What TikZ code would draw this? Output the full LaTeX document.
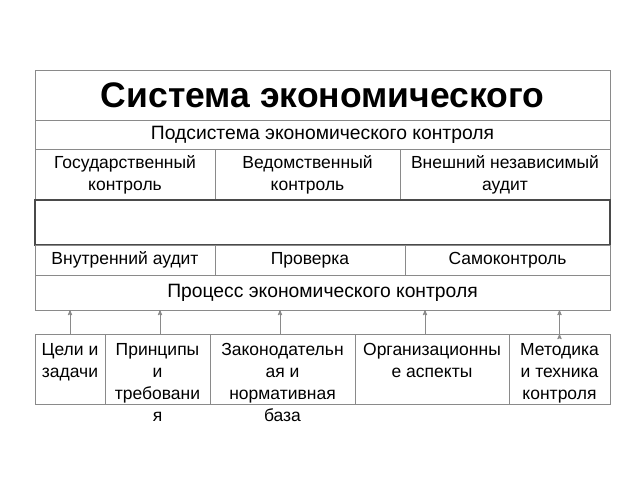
\documentclass[tikz,border=0pt]{standalone}
\usepackage{fontspec}
\setmainfont{Liberation Sans}
\usetikzlibrary{arrows}
\definecolor{gridgray}{HTML}{8A8A8A}
\definecolor{darkgray}{HTML}{4A4A4A}

\begin{document}
\begin{tikzpicture}[x=1pt,y=-1pt,
		cell/.style={draw=gridgray,line width=0.9pt,inner sep=0pt,outer sep=0pt,anchor=north west,
			align=center,font=\fontsize{17.5}{22}\selectfont},
		wide/.style={cell,minimum width=575pt,font=\fontsize{19.3}{22}\selectfont},
		oneline/.style={text height=13pt,text depth=4pt},
		feed/.style={->,>=stealth',draw=gridgray,line width=0.9pt,shorten >=0pt}]

		\useasboundingbox (0,0) rectangle (640,480);

		% upper table
		\node at (35,70) [wide,minimum height=50pt,font=\fontsize{35.5}{38}\selectfont\bfseries] (title) {Система экономического};
		\node at (35,120) [wide,oneline,minimum height=29pt] (subsys) {Подсистема экономического контроля};

		\node at (35,149) [cell,minimum width=180pt,minimum height=51pt] (gos) {Государственный\\контроль};
		\node at (215,149) [cell,minimum width=185pt,minimum height=51pt] (ved) {Ведомственный\\контроль};
		\node at (400,149) [cell,minimum width=210pt,minimum height=51pt] (vnesh) {Внешний независимый\\аудит};

		\node at (35,200) [wide,draw=darkgray,line width=1.6pt,minimum height=45pt] (blank) {};

		\node at (35,245) [cell,oneline,minimum width=180pt,minimum height=30pt] (vnutr) {Внутренний аудит};
		\node at (215,245) [cell,oneline,minimum width=190pt,minimum height=30pt] (prov) {Проверка};
		\node at (405,245) [cell,oneline,minimum width=205pt,minimum height=30pt] (samo) {Самоконтроль};

		\node at (35,275) [wide,oneline,minimum height=35pt] (process) {Процесс экономического контроля};

		% lower row
		\node at (35,334) [cell] (goals) {\parbox[c][70pt][t]{70pt}{\centering\rule{0pt}{21pt}Цели и\\задачи}};
		\node at (105,334) [cell] (princ) {\parbox[c][70pt][t]{105pt}{\centering\rule{0pt}{21pt}Принципы\\и\\требовани\\я}};
		\node at (210,334) [cell] (zakon) {\parbox[c][70pt][t]{145pt}{\centering\rule{0pt}{21pt}Законодательн\\ая и\\нормативная\\база}};
		\node at (355,334) [cell] (org) {\parbox[c][70pt][t]{154pt}{\centering\rule{0pt}{21pt}Организационны\\е аспекты}};
		\node at (509,334) [cell] (metod) {\parbox[c][70pt][t]{101pt}{\centering\rule{0pt}{21pt}Методика\\и техника\\контроля}};

		\path[feed]
		(goals.north) edge (goals.north |- process.south)
		([xshift=2.5pt]princ.north) edge ([xshift=2.5pt]princ.north |- process.south)
		([xshift=-2.5pt]zakon.north) edge ([xshift=-2.5pt]zakon.north |- process.south)
		([xshift=-7pt]org.north) edge ([xshift=-7pt]org.north |- process.south)
		(metod.north) edge (metod.north |- process.south);
	\end{tikzpicture}
\end{document}
